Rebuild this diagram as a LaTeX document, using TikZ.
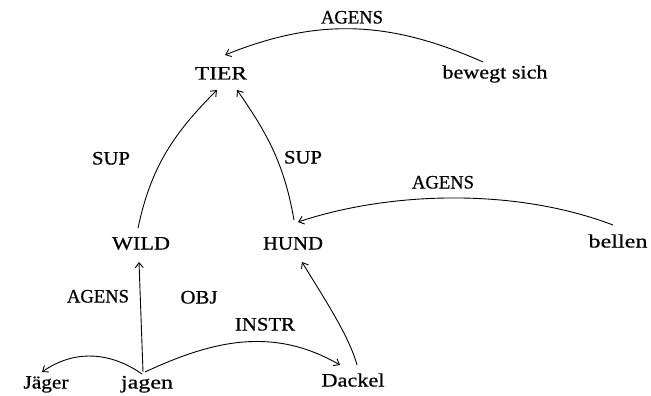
\documentclass[tikz,border=0pt]{standalone}
\usepackage{graphicx}
\usepackage{fontspec}
\setmainfont{Liberation Serif}[FakeBold=0.6]
\usetikzlibrary{arrows.meta,calc}
\newcommand\fw[2]{\resizebox{#1pt}{\height}{#2}}
\tikzset{
  lbl/.style={inner sep=0pt, font=\fontsize{19}{21}\selectfont, text height=13pt, text depth=0pt},
  rel/.style={line width=0.9pt, -{Straight Barb[length=5pt,width=8pt,line width=0.9pt]}}
}
\begin{document}
\begin{tikzpicture}[x=1pt,y=-1pt]
\useasboundingbox (0,0) rectangle (651,396);
% nodes
\node[lbl] (agT)   at (352,17)  {\fw{62}{AGENS}};
\node[lbl] (tier)  at (221,73)  {\fw{52}{TIER}};
\node[lbl] (bew)   at (495,72)  {\fw{105}{bewegt sich}};
\node[lbl] (supL)  at (111,158) {\fw{38}{SUP}};
\node[lbl] (supR)  at (303,157) {\fw{38}{SUP}};
\node[lbl] (agR)   at (443,182) {\fw{62}{AGENS}};
\node[lbl] (wild)  at (141,243) {\fw{58}{WILD}};
\node[lbl] (hund)  at (293,243) {\fw{60}{HUND}};
\node[lbl] (bellen) at (618,241) {\fw{59}{bellen}};
\node[lbl] (agB)   at (98,296)  {\fw{62}{AGENS}};
\node[lbl] (obj)   at (199,297) {\fw{37}{OBJ}};
\node[lbl] (instr) at (265,324) {\fw{60}{INSTR}};
\node[lbl] (jager) at (46,382)  {\fw{45}{Jäger}};
\node[lbl] (jagen) at (147,382) {\fw{52}{jagen}};
\node[lbl] (dackel) at (353,380) {\fw{63}{Dackel}};
% connectors
\draw[rel] ($(bew)+(-12,-10)$) to[out=156,in=22] ($(tier)+(4,-18)$);
\draw[rel] ($(wild)+(-3,-15)$) to[out=78,in=225] ($(tier)+(-4,17)$);
\draw[rel] ($(hund)+(1,-23)$) to[out=100,in=-55] ($(tier)+(16,17)$);
\draw[rel] ($(bellen)+(-5,-16)$) .. controls ($(bellen)+(-105,-54)$) and ($(hund)+(95,-51)$) .. ($(hund)+(5,-21)$);
\draw[rel] ($(jagen)+(-4,-10)$) -- ($(wild)+(-2,19)$);
\draw[rel] ($(jagen)+(-5,-8)$) to[out=145,in=35] ($(jager)+(-4,-10)$);
\draw[rel] ($(jagen)+(-2,-10)$) to[out=25,in=150] ($(dackel)+(-13,-15)$);
\draw[rel] ($(dackel)+(4,-15)$) .. controls ($(dackel)+(-4,-45)$) and ($(hund)+(27,49)$) .. ($(hund)+(9,19)$);
\end{tikzpicture}
\end{document}
